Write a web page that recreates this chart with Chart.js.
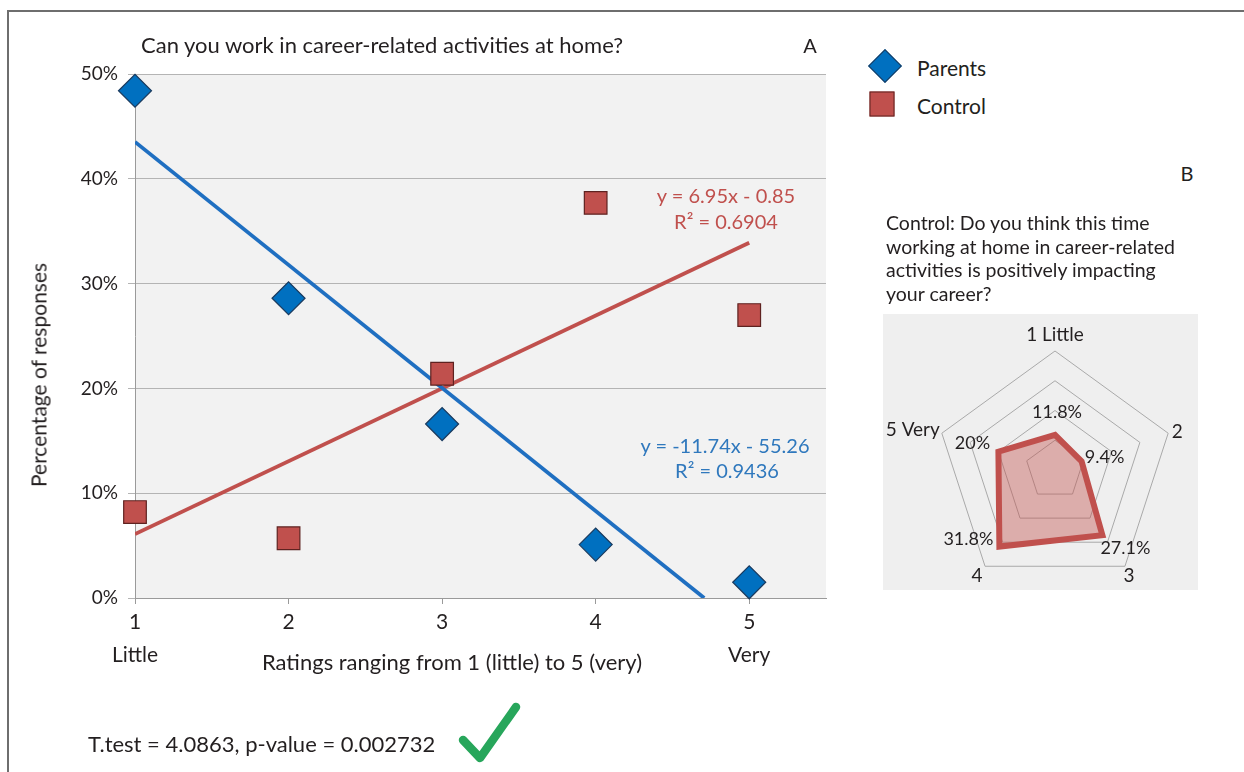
<!DOCTYPE html>
<html>
<head>
<meta charset="utf-8">
<script src="https://cdn.jsdelivr.net/npm/chart.js@4.4.1/dist/chart.umd.min.js"></script>
<style>
  html, body { margin: 0; padding: 0; background: #fff; }
  body { width: 1244px; height: 772px; position: relative; overflow: hidden;
         font-family: Lato, "Open Sans", sans-serif; color: #231f20; }
  .t { position: absolute; white-space: nowrap; line-height: 1; }
  .c { transform: translate(-50%, -50%); }
  .l { transform: translateY(-50%); }
  #frame { position: absolute; left: 7px; top: 10px; right: -10px; bottom: -10px;
           border-top: 2px solid #6e6e6e; border-left: 2px solid #6e6e6e; }
  #main { position: absolute; left: 0; top: 0; }
  #radarBox { position: absolute; left: 883px; top: 314px; width: 315px; height: 276px; background: #efefef; }
  #radar { position: absolute; left: 0; top: 0; }
  .mk { position: absolute; width: 23px; height: 23px; box-sizing: border-box; }
  #question { position: absolute; left: 886px; top: 211px; font-size: 19.5px; line-height: 23.5px; }
</style>
</head>
<body>
<div id="frame"></div>
<canvas id="main" width="860" height="772"></canvas>

<div class="t l" style="left:141px; top:45px; font-size:22px;">Can you work in career-related activities at home?</div>
<div class="t c" style="left:810px; top:45px; font-size:20px;">A</div>
<div class="t c" style="left:1187px; top:173px; font-size:20px;">B</div>

<!-- series key -->
<div class="mk" style="left:885px; top:66px; width:24px; height:24px; background:#0070c0; border:1px solid #1a3a5e; transform:translate(-50%,-50%) rotate(45deg);"></div>
<div class="t l" style="left:917px; top:67px; font-size:21px;">Parents</div>
<div class="mk" style="left:882px; top:104px; width:25px; height:25px; background:#c0504d; border:1px solid #5e2220; transform:translate(-50%,-50%);"></div>
<div class="t l" style="left:917px; top:105px; font-size:21px;">Control</div>

<!-- axis titles -->
<div class="t c" style="left:38px; top:375px; font-size:21px; transform:translate(-50%,-50%) rotate(-90deg);">Percentage of responses</div>
<div class="t c" style="left:452px; top:662px; font-size:22px;">Ratings ranging from 1 (little) to 5 (very)</div>

<!-- regression captions -->
<div id="eqs"></div>

<!-- test result -->
<div class="t l" style="left:88px; top:744px; font-size:22px;">T.test = 4.0863, p-value = 0.002732</div>
<svg style="position:absolute; left:0; top:0;" width="1244" height="772">
  <polyline points="463,740 480,758 516,707" fill="none" stroke="#27a65b" stroke-width="8.5"
            stroke-linecap="round" stroke-linejoin="round"/>
</svg>

<div id="question">Control: Do you think this time<br>working at home in career-related<br>activities is positively impacting<br>your career?</div>
<div id="radarBox"><canvas id="radar" width="315" height="276"></canvas></div>

<script>
// Panel A: share of responses per rating
const ratings      = [1, 2, 3, 4, 5];
const ratingLabels = ['1', '2', '3', '4', '5'];
const ratingEnds   = ['Little', '', '', '', 'Very'];
const parentsPct   = [48.4, 28.6, 16.6, 5.1, 1.5];
const controlPct   = [8.2, 5.7, 21.4, 37.7, 27.0];
const yTicks       = [0, 10, 20, 30, 40, 50];

// Linear fits (Parents, Control)
const trendSlope     = [-11.74, 6.95];
const trendIntercept = [55.26, -0.85];
const trendFrom      = [1, 1];
const trendTo        = [4.707, 5];
const trendEquation  = ['y = -11.74x - 55.26', 'y = 6.95x - 0.85'];
const trendR2        = ['R\u00b2 = 0.9436', 'R\u00b2 = 0.6904'];

// Panel B: Control group, perceived career impact
const radarAxes     = ['1 Little', '2', '3', '4', '5 Very'];
const controlImpact = [11.8, 9.4, 27.1, 31.8, 20];
const radarTicks    = [10, 20, 30, 40];

const FONT = 'Lato, "Open Sans", sans-serif';
const INK = '#231f20';
const BLUE = '#0070c0', BLUE_LINE = '#1f6fc1', BLUE_TEXT = '#2f78bd';
const RED = '#c0504d';

// Fit captions, placed near the right end of each line
const eqStyle = [
  { color: BLUE_TEXT, lines: [[725, 445], [727, 470]] },
  { color: RED,       lines: [[726, 195], [726, 221]] }
];
const eqBox = document.getElementById('eqs');
[0, 1].forEach(k => {
  [trendEquation[k], trendR2[k]].forEach((txt, j) => {
    const d = document.createElement('div');
    d.className = 't c';
    d.textContent = txt;
    d.style.left = eqStyle[k].lines[j][0] + 'px';
    d.style.top = eqStyle[k].lines[j][1] + 'px';
    d.style.fontSize = '20px';
    d.style.color = eqStyle[k].color;
    eqBox.appendChild(d);
  });
});

function trendPoints(k) {
  return [trendFrom[k], trendTo[k]].map(x => ({ x, y: trendSlope[k] * x + trendIntercept[k] }));
}

const plotBg = {
  id: 'plotBg',
  beforeDraw(chart) {
    const { ctx, chartArea: a } = chart;
    ctx.save();
    ctx.fillStyle = '#f2f2f2';
    ctx.fillRect(a.left, a.top, a.right - a.left, a.bottom - a.top);
    ctx.restore();
  }
};

new Chart(document.getElementById('main'), {
  type: 'scatter',
  data: {
    datasets: [
      { label: 'Parents', data: ratings.map((x, i) => ({ x, y: parentsPct[i] })),
        pointStyle: 'rectRot', pointRadius: 16.5, backgroundColor: BLUE,
        borderColor: '#1a3a5e', borderWidth: 1.2, order: 1, clip: false },
      { label: 'Control', data: ratings.map((x, i) => ({ x, y: controlPct[i] })),
        pointStyle: 'rect', pointRadius: 16, backgroundColor: RED,
        borderColor: '#5e2220', borderWidth: 1.2, order: 1, clip: false },
      { type: 'line', label: 'Parents fit', data: trendPoints(0), borderColor: BLUE_LINE,
        borderWidth: 3.8, pointRadius: 0, order: 2 },
      { type: 'line', label: 'Control fit', data: trendPoints(1), borderColor: RED,
        borderWidth: 3.8, pointRadius: 0, order: 2 }
    ]
  },
  options: {
    responsive: false,
    animation: false,
    layout: { padding: { left: 0, top: 74, right: 34, bottom: 94 } },
    plugins: { legend: { display: false }, tooltip: { enabled: false } },
    scales: {
      x: {
        type: 'linear', min: 1, max: 5.5,
        afterBuildTicks: s => { s.ticks = ratings.map(v => ({ value: v })); },
        afterFit: s => { s.height = 80; },
        grid: { drawOnChartArea: false, drawTicks: true, tickLength: 6, color: '#9a9a9a' },
        border: { display: true, color: '#9a9a9a' },
        ticks: {
          autoSkip: false, maxRotation: 0, padding: 1.5, color: INK,
          font: { family: FONT, size: 21, lineHeight: 1.57 },
          callback: v => {
            const i = ratings.indexOf(v);
            return ratingEnds[i] ? [ratingLabels[i], ratingEnds[i]] : ratingLabels[i];
          }
        }
      },
      y: {
        min: 0, max: 50,
        afterBuildTicks: s => { s.ticks = yTicks.map(v => ({ value: v })); },
        afterFit: s => { s.width = 135; },
        grid: { color: '#b4b4b4', tickLength: 7 },
        border: { display: true, color: '#9a9a9a' },
        ticks: { padding: 10, color: INK, font: { family: FONT, size: 19 }, callback: v => v + '%' }
      }
    }
  },
  plugins: [plotBg]
});

// Radar labels: axis names at the outer ring, values beside each vertex
const radarText = {
  id: 'radarText',
  afterDatasetsDraw(chart, args, opts) {
    const r = chart.scales.r, ctx = chart.ctx;
    ctx.save();
    ctx.fillStyle = INK;
    ctx.textBaseline = 'middle';
    ctx.font = '19px ' + FONT;
    radarAxes.forEach((name, i) => {
      const p = r.getPointPosition(i, r.drawingArea);
      const o = opts.axisOffset[i];
      ctx.textAlign = o[2];
      ctx.fillText(name, p.x + o[0], p.y + o[1]);
    });
    ctx.font = '18px ' + FONT;
    controlImpact.forEach((v, i) => {
      const p = r.getPointPositionForValue(i, v);
      const o = opts.valueOffset[i];
      ctx.textAlign = 'center';
      ctx.fillText(v + '%', p.x + o[0], p.y + o[1]);
    });
    ctx.restore();
  }
};

new Chart(document.getElementById('radar'), {
  type: 'radar',
  data: {
    labels: radarAxes,
    datasets: [{
      label: 'Control', data: controlImpact,
      backgroundColor: 'rgba(192,80,77,0.42)', borderColor: RED, borderWidth: 6,
      borderJoinStyle: 'miter', pointRadius: 0, fill: true
    }]
  },
  options: {
    responsive: false,
    animation: false,
    layout: { padding: { left: 53, right: 24, top: 37, bottom: 1 } },
    plugins: {
      legend: { display: false }, tooltip: { enabled: false },
      radarText: {
        axisOffset: [[0, -16, 'center'], [9, -1, 'center'], [4, 10, 'center'], [-8, 10, 'center'], [-2, -3, 'right']],
        valueOffset: [[2, -23], [23, -4], [23, 13], [-31, -7], [-26, -8]]
      }
    },
    scales: {
      r: {
        min: 0, max: 40,
        afterBuildTicks: s => { s.ticks = [0].concat(radarTicks).map(v => ({ value: v })); },
        ticks: { display: false, stepSize: 10 },
        grid: { color: '#a9a9a9', lineWidth: 1 },
        angleLines: { display: false },
        pointLabels: { display: false }
      }
    }
  },
  plugins: [radarText]
});
</script>
</body>
</html>
